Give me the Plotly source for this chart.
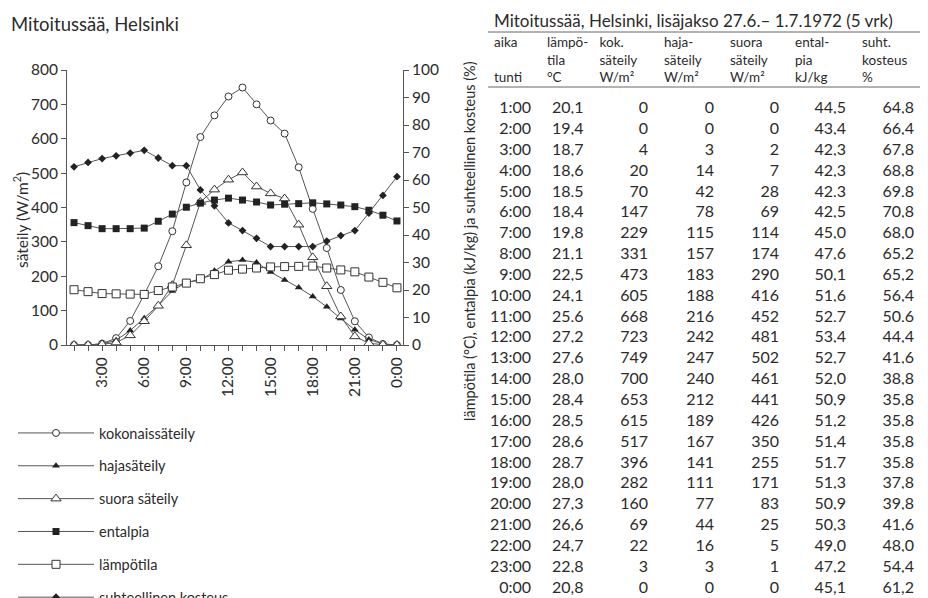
import plotly.graph_objects as go

W, H = 928, 598
OFF = 8  # page body margin of the browser

# ---------------- data ----------------
hours = list(range(1, 25))
time_labels = ["1:00", "2:00", "3:00", "4:00", "5:00", "6:00", "7:00", "8:00", "9:00", "10:00",
               "11:00", "12:00", "13:00", "14:00", "15:00", "16:00", "17:00", "18:00", "19:00",
               "20:00", "21:00", "22:00", "23:00", "0:00"]
lampotila = [20.1, 19.4, 18.7, 18.6, 18.5, 18.4, 19.8, 21.1, 22.5, 24.1, 25.6, 27.2,
             27.6, 28.0, 28.4, 28.5, 28.6, 28.7, 28.0, 27.3, 26.6, 24.7, 22.8, 20.8]
kokonais = [0, 0, 4, 20, 70, 147, 229, 331, 473, 605, 668, 723,
            749, 700, 653, 615, 517, 396, 282, 160, 69, 22, 3, 0]
haja = [0, 0, 3, 14, 42, 78, 115, 157, 183, 188, 216, 242,
        247, 240, 212, 189, 167, 141, 111, 77, 44, 16, 3, 0]
suora = [0, 0, 2, 7, 28, 69, 114, 174, 290, 416, 452, 481,
         502, 461, 441, 426, 350, 255, 171, 83, 25, 5, 1, 0]
entalpia = [44.5, 43.4, 42.3, 42.3, 42.3, 42.5, 45.0, 47.6, 50.1, 51.6, 52.7, 53.4,
            52.7, 52.0, 50.9, 51.2, 51.4, 51.7, 51.3, 50.9, 50.3, 49.0, 47.2, 45.1]
kosteus = [64.8, 66.4, 67.8, 68.8, 69.8, 70.8, 68.0, 65.2, 65.2, 56.4, 50.6, 44.4,
           41.6, 38.8, 35.8, 35.8, 35.8, 35.8, 37.8, 39.8, 41.6, 48.0, 54.4, 61.2]

x_tickvals = [3, 6, 9, 12, 15, 18, 21, 24]
x_ticktext = ["3:00", "6:00", "9:00", "12:00", "15:00", "18:00", "21:00", "0:00"]

header_values = ["aika<br> <br>tunti", "lämpö-<br>tila<br>°C", "kok.<br>säteily<br>W/m²",
                 "haja-<br>säteily<br>W/m²", "suora<br>säteily<br>W/m²",
                 "ental-<br>pia<br>kJ/kg", "suht.<br>kosteus<br>%"]

# ---------------- style ----------------
FONT = "Lato"
TXT = "#2b2b2b"
LINE = "#555555"


def px_x(p):
    # p: wanted pixel position in the browser window
    return (p - OFF) / W


def px_y(p):
    return 1 - (p - OFF) / H


def fmt1(v):
    return f"{v:.1f}".replace(".", ",")


fig = go.Figure()

series = [
    ("kokonaissäteily", kokonais, "y", dict(symbol="circle", size=7, color="white", line=dict(color="#333", width=1))),
    ("hajasäteily", haja, "y", dict(symbol="triangle-up", size=7, color="#222", line=dict(color="#222", width=0))),
    ("suora säteily", suora, "y", dict(symbol="triangle-up", size=9, color="white", line=dict(color="#333", width=1))),
    ("entalpia", entalpia, "y2", dict(symbol="square", size=7, color="#222", line=dict(color="#222", width=0))),
    ("lämpötila", lampotila, "y2", dict(symbol="square", size=8, color="white", line=dict(color="#333", width=1))),
    ("suhteellinen kosteus", kosteus, "y2", dict(symbol="diamond", size=6, color="#222", line=dict(color="#222", width=0))),
]
for name, vals, ax, mk in series:
    fig.add_trace(go.Scatter(
        x=hours, y=vals, name=name, yaxis=ax, xaxis="x",
        mode="lines+markers", line=dict(color=LINE, width=1), marker=mk,
        legendgroup=name,
    ))

# table
cols = [time_labels, [fmt1(v) for v in lampotila], [str(v) for v in kokonais],
        [str(v) for v in haja], [str(v) for v in suora],
        [fmt1(v) for v in entalpia], [fmt1(v) for v in kosteus]]
fig.add_trace(go.Table(
    domain=dict(x=[px_x(486), px_x(922)], y=[0, px_y(26)]),
    columnwidth=[53, 52.5, 64.5, 66, 65, 67, 68],
    header=dict(values=header_values, align="left", height=62,
                fill=dict(color="white"), line=dict(color="rgba(0,0,0,0)", width=0),
                font=dict(family=FONT, size=13.5, color=TXT)),
    cells=dict(values=cols, align="right", height=20.85,
               fill=dict(color="white"), line=dict(color="rgba(0,0,0,0)", width=0),
               font=dict(family=FONT, size=16, color=TXT)),
))

axis_common = dict(showline=True, linecolor=LINE, linewidth=1, showgrid=False, zeroline=False,
                   ticks="outside", ticklen=5, tickcolor=LINE, automargin=False,
                   tickfont=dict(family=FONT, size=15.5, color=TXT))

fig.update_layout(
    width=W, height=H,
    margin=dict(l=0, r=0, t=0, b=0, autoexpand=False),
    paper_bgcolor="white", plot_bgcolor="white",
    font=dict(family=FONT, color=TXT),
    xaxis=dict(domain=[px_x(67), px_x(403)], range=[0.5, 24.43], anchor="y",
               tickmode="array", tickvals=x_tickvals, ticktext=x_ticktext, tickangle=-90,
               minor=dict(tickmode="linear", tick0=0, dtick=1, ticks="outside", ticklen=5, tickcolor=LINE),
               **axis_common),
    xaxis2=dict(domain=[px_x(67), px_x(403)], range=[0.5, 24.43], anchor="y", overlaying="x",
                tickmode="linear", tick0=0, dtick=1, ticks="inside", ticklen=3, tickcolor=LINE,
                showticklabels=False, showline=False, showgrid=False, zeroline=False, automargin=False),
    yaxis=dict(domain=[px_y(345), px_y(70)], range=[0, 800], dtick=100, anchor="x", **axis_common),
    yaxis2=dict(domain=[px_y(345), px_y(70)], range=[0, 100], dtick=10, overlaying="y",
                side="right", anchor="x", **axis_common),
    legend=dict(x=px_x(13), y=px_y(417), xanchor="left", yanchor="top",
                font=dict(family=FONT, size=14.5, color=TXT), itemwidth=76,
                traceorder="grouped", tracegroupgap=11, bgcolor="rgba(0,0,0,0)"),
    annotations=[
        dict(text="Mitoitussää, Helsinki", x=px_x(9), y=px_y(24), xref="paper", yref="paper",
             xanchor="left", yanchor="middle", showarrow=False,
             font=dict(family=FONT, size=18.5, color=TXT)),
        dict(text="Mitoitussää, Helsinki, lisäjakso 27.6.– 1.7.1972 (5 vrk)", x=px_x(492), y=px_y(21),
             xref="paper", yref="paper", xanchor="left", yanchor="middle", showarrow=False,
             font=dict(family=FONT, size=17, color=TXT)),
        dict(text="säteily (W/m<sup>2</sup>)", x=px_x(20), y=px_y(220), xref="paper", yref="paper",
             xanchor="center", yanchor="middle", textangle=-90, showarrow=False,
             font=dict(family=FONT, size=15.5, color=TXT)),
        dict(text="lämpötila (°C), entalpia (kJ/kg) ja suhteellinen kosteus (%)", x=px_x(469), y=px_y(241),
             xref="paper", yref="paper", xanchor="center", yanchor="middle", textangle=-90, showarrow=False,
             font=dict(family=FONT, size=14.5, color=TXT)),
    ],
    shapes=[
        dict(type="line", xref="paper", yref="paper", x0=px_x(488), x1=px_x(925), y0=px_y(32), y1=px_y(32),
             line=dict(color="#666", width=1)),
        dict(type="line", xref="paper", yref="paper", x0=px_x(488), x1=px_x(925), y0=px_y(87), y1=px_y(87),
             line=dict(color="#666", width=1)),
    ],
)

fig.write_html("out.html")
